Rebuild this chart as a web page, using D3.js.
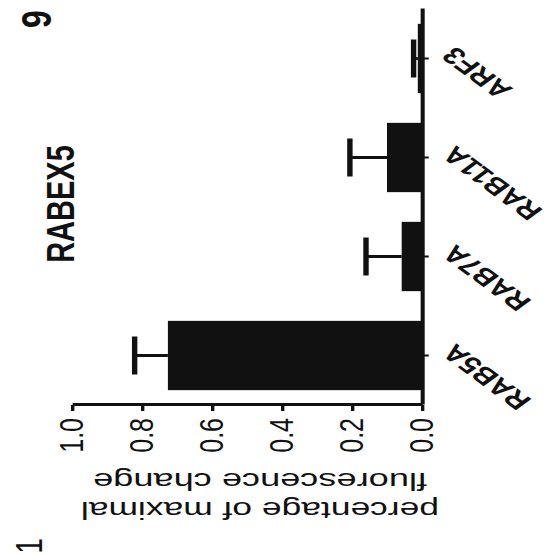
<!DOCTYPE html>
<html>
<head>
<meta charset="utf-8">
<script src="https://cdn.jsdelivr.net/npm/d3@7"></script>
<style>
  body { margin: 0; background: #fff; }
  text { font-family: "Liberation Sans", Arial, sans-serif; fill: #111; }
</style>
</head>
<body>
<svg id="chart" width="553" height="554"></svg>
<script>
// Bar data: mean response per GTPase with the upper error (SD)
const categories = ["RAB5A", "RAB7A", "RAB11A", "ARF3"];
const means = [0.726, 0.058, 0.100, 0.012];
const errors = [0.095, 0.102, 0.106, 0.012];
const yTicks = [0.0, 0.2, 0.4, 0.6, 0.8, 1.0];
const yTickLabels = ["0.0", "0.2", "0.4", "0.6", "0.8", "1.0"];
const chartTitle = "RABEX5";
const yTitleLines = ["percentage of maximal", "fluorescence change"];
const panelLabel = "9";
const pageMark = "1";

const ink = "#111";
const sx = 1.35; // page is laid out sideways and stretched across the value direction

const svg = d3.select("#chart");
svg.append("rect").attr("width", 553).attr("height", 554).attr("fill", "#fff");

// Chart is drawn in an upright frame, then turned onto the page
const g = svg.append("g").attr("transform", `matrix(0,-1,${sx},0,0,554)`);

const x = d3.scaleBand().domain(categories).range([149, 545])
  .paddingInner(0.3).paddingOuter(0.15);
const y = d3.scaleLinear().domain([0, 1]).range([422 / sx, 72 / sx]);

const data = categories.map((c, i) => ({ c, m: means[i], e: errors[i] }));

// bars
g.selectAll("rect.bar").data(data).join("rect")
  .attr("class", "bar")
  .attr("x", d => x(d.c))
  .attr("width", x.bandwidth())
  .attr("y", d => y(d.m))
  .attr("height", d => y(0) - y(d.m))
  .attr("fill", ink);

// error bars (upper only)
const capW = 38;
g.selectAll("line.err").data(data).join("line")
  .attr("class", "err")
  .attr("x1", d => x(d.c) + x.bandwidth() / 2)
  .attr("x2", d => x(d.c) + x.bandwidth() / 2)
  .attr("y1", d => y(d.m))
  .attr("y2", d => y(d.m + d.e))
  .attr("stroke", ink).attr("stroke-width", 3);
g.selectAll("line.cap").data(data).join("line")
  .attr("class", "cap")
  .attr("x1", d => x(d.c) + x.bandwidth() / 2 - capW / 2)
  .attr("x2", d => x(d.c) + x.bandwidth() / 2 + capW / 2)
  .attr("y1", d => y(d.m + d.e))
  .attr("y2", d => y(d.m + d.e))
  .attr("stroke", ink).attr("stroke-width", 4);

// value axis
const yAxis = g.append("g").attr("transform", `translate(${x.range()[0]},0)`)
  .call(d3.axisLeft(y).tickValues(yTicks)
    .tickFormat((d, i) => yTickLabels[i]).tickSize(6).tickSizeOuter(0).tickPadding(7));
yAxis.select(".domain").attr("stroke", ink).attr("stroke-width", 3);
yAxis.selectAll(".tick line").attr("stroke", ink).attr("stroke-width", 2.5);
yAxis.selectAll(".tick text").attr("font-size", 25).attr("fill", ink)
  .attr("font-family", "Liberation Sans, Arial, sans-serif");

// category axis
const xAxis = g.append("g").attr("transform", `translate(0,${y(0)})`)
  .call(d3.axisBottom(x).tickSize(5).tickSizeOuter(0));
xAxis.select(".domain").attr("stroke", ink).attr("stroke-width", 3);
xAxis.selectAll(".tick line").attr("stroke", ink).attr("stroke-width", 2);
xAxis.selectAll(".tick text")
  .attr("font-size", 23.5).attr("font-weight", "bold").attr("fill", ink)
  .attr("font-family", "Liberation Sans, Arial, sans-serif")
  .attr("text-anchor", "end")
  .attr("x", 0).attr("y", 0).attr("dy", "0.35em")
  .attr("transform", "translate(7,19) rotate(-45)");

// title
g.append("text").attr("x", 350).attr("y", 55)
  .attr("text-anchor", "middle").attr("font-size", 29).attr("font-weight", "bold")
  .text(chartTitle);

// value axis title, two lines
const ytMid = 260 / sx;
const ytLen = [358 / sx, 334 / sx];
const ytBase = [52, 81];
yTitleLines.forEach((line, i) => {
  g.append("text")
    .attr("transform", `translate(${ytBase[i]},${ytMid}) rotate(-90)`)
    .attr("text-anchor", "middle").attr("font-size", 24)
    .attr("textLength", ytLen[i]).attr("lengthAdjust", "spacingAndGlyphs")
    .text(line);
});

// panel number
g.append("text").attr("x", 535).attr("y", 38).attr("text-anchor", "middle")
  .attr("font-size", 32).attr("font-weight", "bold").text(panelLabel);

// page mark in the corner
g.append("text").attr("x", 8).attr("y", 31).attr("text-anchor", "middle")
  .attr("font-size", 28).text(pageMark);
</script>
</body>
</html>
